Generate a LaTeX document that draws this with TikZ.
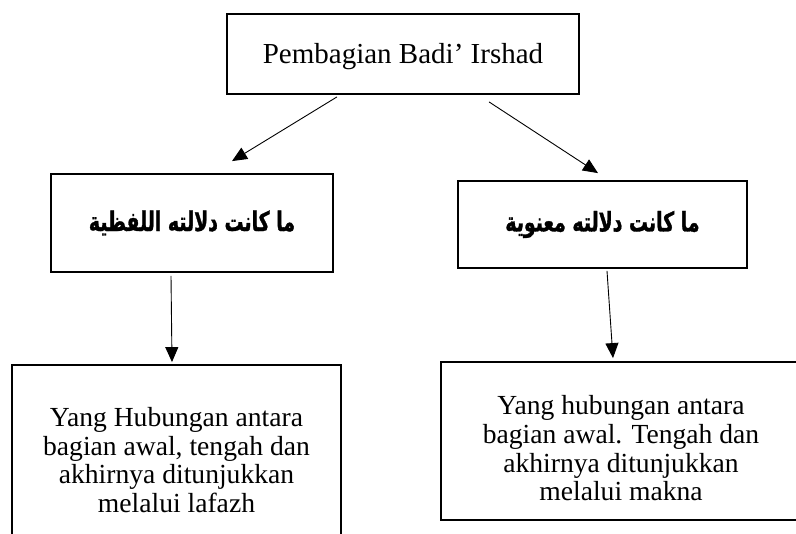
\documentclass[tikz,border=0pt]{standalone}
\usepackage{fontspec}
\setmainfont{Liberation Serif}
\newfontfamily\arabicfont[Script=Arabic,FakeStretch=0.7,BoldFeatures={FakeBold=1.2}]{DejaVu Sans}
\TeXXeTstate=1
\usetikzlibrary{arrows.meta}

\begin{document}
\begin{tikzpicture}[x=1pt,y=-1pt,
    box/.style={draw, line width=1.8pt, align=center, inner sep=0pt},
    latin/.style={font=\fontsize{27.6}{28.7}\selectfont},
    arab/.style={font=\arabicfont\bfseries\fontsize{27}{30}\selectfont},
    arr/.style={-{Triangle[length=15pt,width=13pt]}, line width=0.9pt}]
            \clip (0,0) rectangle (796,534);

            \node[box, minimum width=352pt, minimum height=80pt, font=\fontsize{29}{32}\selectfont] (top) at (403,54) {\rule{0pt}{26pt}Pembagian Badi’ Irshad};

            \node[box, arab, minimum width=282pt, minimum height=98pt] (lafzi) at (192,223) {\beginR ما كانت دلالته اللفظية\endR};
            \node[box, arab, minimum width=289pt, minimum height=87pt] (maknawi) at (602.5,224.5) {\beginR ما كانت دلالته معنوية\endR};

            \node[box, latin, minimum width=329pt, minimum height=173pt] (lafzhdesc) at (176.5,451.5) {\rule{0pt}{36pt}Yang Hubungan antara\\bagian awal, tengah dan\\akhirnya ditunjukkan\\melalui lafazh};
            \node[box, latin, minimum width=360pt, minimum height=158pt] (maknadesc) at (621,441) {\rule{0pt}{34pt}Yang hubungan antara\\bagian awal. Tengah dan\\akhirnya ditunjukkan\\melalui makna};

            \draw[arr] ([xshift=-66pt,yshift=-2pt]top.south) -- ([xshift=40pt,yshift=12pt]lafzi.north);
            \draw[arr] ([xshift=86pt,yshift=-7pt]top.south) -- ([xshift=-4.5pt,yshift=7pt]maknawi.north);
            \draw[arr] ([xshift=-21pt,yshift=-3pt]lafzi.south) -- ([xshift=-4.5pt,yshift=2pt]lafzhdesc.north);
            \draw[arr] ([xshift=4.5pt,yshift=-2pt]maknawi.south) -- ([xshift=-8pt,yshift=3pt]maknadesc.north);
        \end{tikzpicture}
\end{document}
